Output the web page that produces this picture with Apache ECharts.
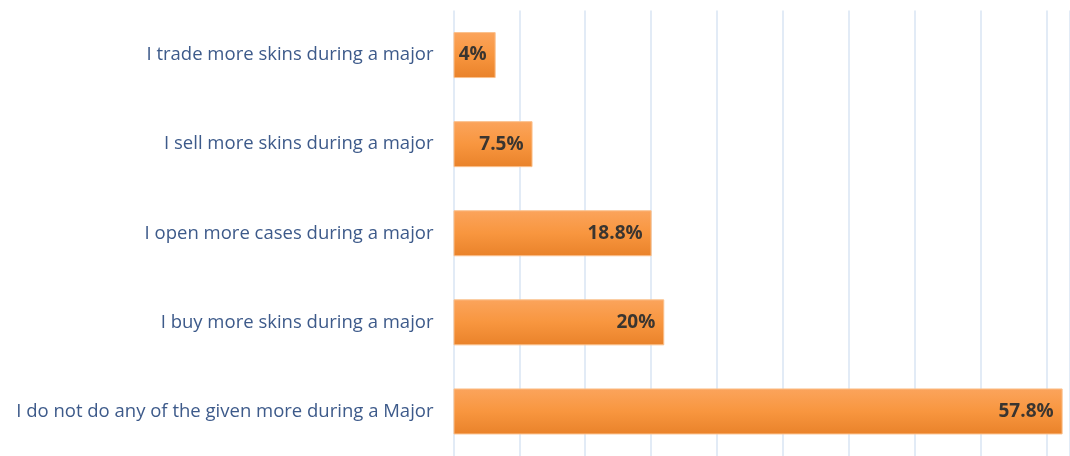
<!DOCTYPE html>
<html>
<head>
<meta charset="utf-8">
<script src="https://cdn.jsdelivr.net/npm/echarts@6/dist/echarts.min.js"></script>
<style>
  html, body { margin: 0; padding: 0; background: #ffffff; }
  #chart { width: 1070px; height: 456px; }
</style>
</head>
<body>
<div id="chart"></div>
<script>
// Survey answers, listed top to bottom
const categories = [
  'I trade more skins during a major',
  'I sell more skins during a major',
  'I open more cases during a major',
  'I buy more skins during a major',
  'I do not do any of the given more during a Major'
];
// Share of respondents, in percent
const shares = [4, 7.5, 18.8, 20, 57.8];
const valueLabels = ['4%', '7.5%', '18.8%', '20%', '57.8%'];

const chart = echarts.init(document.getElementById('chart'), null, { renderer: 'canvas' });

chart.setOption({
  animation: false,
  grid: { left: 453.5, right: -4, top: 10.5, bottom: -8.5, containLabel: false },
  xAxis: {
    type: 'value',
    min: 0,
    max: 58.5,
    interval: 6.25,
    axisLine: { show: false },
    axisTick: { show: false },
    axisLabel: { show: false },
    splitLine: { show: true, lineStyle: { color: '#e2ebf6', width: 2 } }
  },
  yAxis: {
    type: 'category',
    inverse: true,
    data: categories,
    axisLine: { show: false },
    axisTick: { show: false },
    axisLabel: {
      margin: 20,
      color: '#3d5a8a',
      fontFamily: 'Open Sans',
      fontSize: 18.5
    }
  },
  series: [{
    type: 'bar',
    data: shares,
    barWidth: 46,
    itemStyle: {
      color: new echarts.graphic.LinearGradient(0, 0, 0, 1, [
        { offset: 0, color: '#fba45c' },
        { offset: 0.5, color: '#f8963f' },
        { offset: 1, color: '#e9822a' }
      ]),
      borderColor: '#fbc08c',
      borderWidth: 1
    },
    label: {
      show: true,
      position: 'insideRight',
      distance: 9,
      formatter: p => valueLabels[p.dataIndex],
      color: '#3a3530',
      fontFamily: 'Open Sans',
      fontWeight: 'bold',
      fontSize: 19
    }
  }]
});
</script>
</body>
</html>
